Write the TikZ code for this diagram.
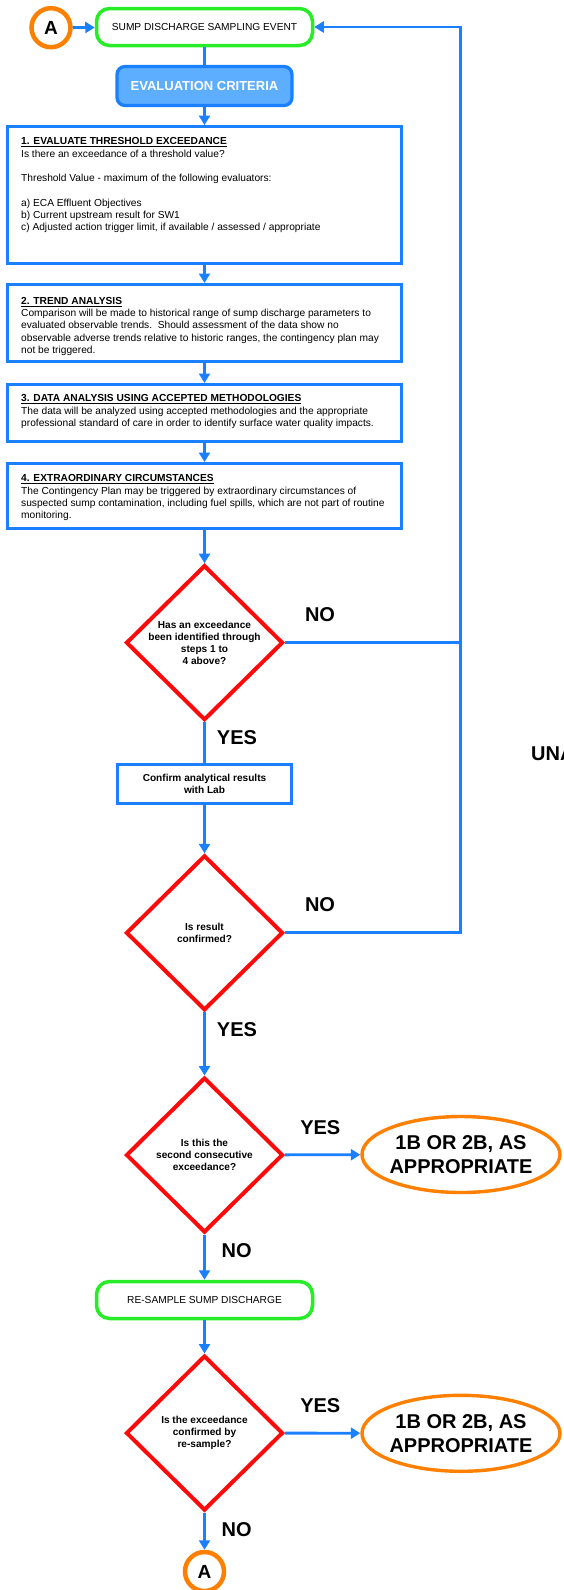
\documentclass[tikz,border=0pt]{standalone}
\usepackage{fontspec}
\setmainfont{Liberation Sans}
\usetikzlibrary{shapes.geometric,arrows.meta,calc}
\definecolor{fblue}{RGB}{26,128,255}
\definecolor{flight}{RGB}{94,174,255}
\definecolor{fred}{RGB}{255,10,10}
\definecolor{fgreen}{RGB}{40,236,40}
\definecolor{forange}{RGB}{255,128,0}
\begin{document}
\begin{tikzpicture}[x=1pt,y=-1pt,
  conn/.style={draw=fblue, line width=2.8pt},
  arr/.style={conn, -{Triangle[length=9.5pt,width=11pt]}},
  bluebox/.style={draw=fblue, line width=3.3pt, rectangle, inner sep=0pt},
  greenbox/.style={draw=fgreen, line width=3.5pt, rounded corners=13pt, minimum width=216pt, minimum height=37pt, inner sep=0pt, font=\fontsize{10.2}{12}\selectfont},
  evalbox/.style={draw=fblue, fill=flight, line width=3.3pt, rounded corners=8pt, minimum width=175pt, minimum height=39pt, inner sep=0pt, text=white, font=\bfseries\fontsize{13}{15}\selectfont},
  dia/.style={diamond, draw=fred, line width=4pt, minimum width=157pt, minimum height=155pt, inner sep=0pt},
  dtxt/.style={align=center, font=\bfseries\fontsize{10.1}{12}\selectfont, inner sep=0pt},
  btxt/.style={align=left, anchor=north west, inner sep=0pt, font=\fontsize{10.2}{12.3}\selectfont},
  big/.style={font=\bfseries\fontsize{20}{24}\selectfont, inner sep=0pt},
  oval/.style={ellipse, draw=forange, line width=3.4pt, minimum width=198pt, minimum height=76pt, inner sep=0pt},
  acirc/.style={circle, draw=forange, line width=4.5pt, minimum size=39pt, inner sep=0pt, font=\bfseries\fontsize{19}{22}\selectfont}
]
\useasboundingbox (0,0) rectangle (563,1590);

% nodes
\node[acirc] (a1) at (51,27.7) {A};
\node[greenbox] (start) at (204.5,27) {SUMP DISCHARGE SAMPLING EVENT};
\node[evalbox] (eval) at (204.5,86) {EVALUATION CRITERIA};

\node[bluebox, minimum width=393.6pt, minimum height=137pt] (b1) at (204.5,195.2) {};
\node[btxt] (b1t) at (21,137.5) {\underline{\textbf{1. EVALUATE THRESHOLD EXCEEDANCE}}\\Is there an exceedance of a threshold value?\\\mbox{}\\Threshold Value - maximum of the following evaluators:\\\mbox{}\\a) ECA Effluent Objectives\\b) Current upstream result for SW1\\c) Adjusted action trigger limit, if available / assessed / appropriate};

\node[bluebox, minimum width=393.6pt, minimum height=76.7pt] (b2) at (204.5,323) {};
\node[btxt] (b2t) at (21,297) {\underline{\textbf{2. TREND ANALYSIS}}\\Comparison will be made to historical range of sump discharge parameters to\\evaluated observable trends.\ \ Should assessment of the data show no\\observable adverse trends relative to historic ranges, the contingency plan may\\not be triggered.};

\node[bluebox, minimum width=393.6pt, minimum height=56.7pt] (b3) at (204.5,413) {};
\node[btxt] (b3t) at (21,394.6) {\underline{\textbf{3. DATA ANALYSIS USING ACCEPTED METHODOLOGIES}}\\The data will be analyzed using accepted methodologies and the appropriate\\professional standard of care in order to identify surface water quality impacts.};

\node[bluebox, minimum width=393.6pt, minimum height=64.7pt] (b4) at (204.5,496) {};
\node[btxt] (b4t) at (21,474.6) {\underline{\textbf{4. EXTRAORDINARY CIRCUMSTANCES}}\\The Contingency Plan may be triggered by extraordinary circumstances of\\suspected sump contamination, including fuel spills, which are not part of routine\\monitoring.};

\node[dia] (d1) at (204.5,642.7) {};
\node[dtxt] (d1t) at (d1) {Has an exceedance\\been identified through\\steps 1 to\\4 above?};

\node[bluebox, minimum width=173.4pt, minimum height=39pt, align=center, font=\bfseries\fontsize{10.1}{12}\selectfont] (conf) at (204.5,783.8) {Confirm analytical results\\with Lab};

\node[dia] (d2) at (204.5,932.8) {};
\node[dtxt] (d2t) at (d2) {Is result\\confirmed?};

\node[dia] (d3) at (204.5,1155) {};
\node[dtxt] (d3t) at (d3) {Is this the\\second consecutive\\exceedance?};

\node[oval] (e1) at (461,1154.5) {};
\node[big, align=center] (e1t) at (e1) {1B OR 2B, AS\\APPROPRIATE};

\node[greenbox] (g2) at (204.5,1300) {RE-SAMPLE SUMP DISCHARGE};

\node[dia] (d4) at (204.5,1433) {};
\node[dtxt] (d4t) at (d4) {Is the exceedance\\confirmed by\\re-sample?};

\node[oval] (e2) at (461,1433.3) {};
\node[big, align=center] (e2t) at (e2) {1B OR 2B, AS\\APPROPRIATE};

\node[acirc] (a2) at (204.5,1571.5) {A};

% labels
\node[big] (no1) at (320,614.5) {NO};
\node[big] (yes1) at (237,737.5) {YES};
\node[big] (no2) at (320,905) {NO};
\node[big] (yes2) at (237,1029.2) {YES};
\node[big] (yes3) at (320.3,1127.8) {YES};
\node[big] (no3) at (236.7,1250.8) {NO};
\node[big] (yes4) at (320.3,1405.8) {YES};
\node[big] (no4) at (236.7,1529.8) {NO};
\begin{scope}
\clip (0,0) rectangle (563,1590);
\node[big, anchor=west] (una) at (531,753.8) {UNA};
\end{scope}

% connectors
\coordinate (fbtop) at (460.5,27);
\coordinate (fbbot) at (460.5,932.8);
\draw[arr] (a1) -- (start);
\draw[conn] (start) -- (eval);
\draw[arr] (eval) -- (b1);
\draw[arr] (b1) -- (b2);
\draw[arr] (b2) -- (b3);
\draw[arr] (b3) -- (b4);
\draw[arr] (b4) -- (d1);
\draw[conn] (d1) -- (conf);
\draw[arr] (conf) -- (d2);
\draw[arr] (d2) -- (d3);
\draw[arr] (d3) -- (e1);
\draw[arr] (d3) -- (g2);
\draw[arr] (g2) -- (d4);
\draw[arr] (d4) -- (e2);
\draw[arr] (d4) -- (a2);
\draw[conn] (d1.east) -- (d1.east -| fbtop);
\draw[arr] (d2.east) -- (fbbot) -- (fbtop) -- (start.east);
\end{tikzpicture}
\end{document}
